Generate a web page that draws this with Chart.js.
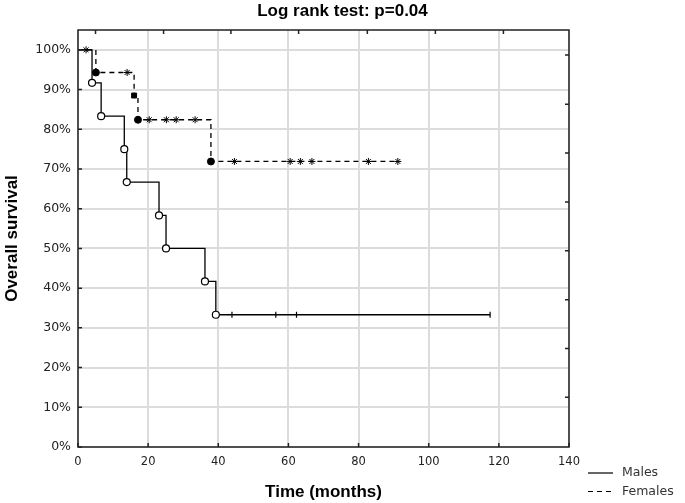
<!DOCTYPE html>
<html>
<head>
<meta charset="utf-8">
<title>Overall survival by sex</title>
<script src="https://cdn.jsdelivr.net/npm/chart.js@4"></script>
<style>
  html, body { margin: 0; padding: 0; background: #fff; }
  #wrap { width: 685px; height: 503px; }
</style>
</head>
<body>
<div id="wrap"><canvas id="kmChart"></canvas></div>
<script>
// Kaplan-Meier curves, values (time in months, survival in %)

const seriesLabels = ['Males', 'Females'];

// Males: deaths (open circles) and censored cases (| ticks)
const maleEventTimes = [4.0, 6.6, 13.2, 13.9, 23.1, 25.1, 36.2, 39.3];
const maleEventSurv = [91.7, 83.3, 75.0, 66.7, 58.3, 50.0, 41.7, 33.3];
const maleCensorTimes = [43.9, 56.4, 62.3, 117.5];

// Females: deaths (filled marks) and censored cases (stars)
const femaleEventTimes = [5.1, 16.0, 17.1, 37.9];
const femaleEventSurv = [94.3, 88.5, 82.4, 71.9];
const femaleCensorTimes = [2.3, 14.0, 20.3, 25.2, 28.0, 33.4, 44.6, 60.5, 63.4, 66.7, 82.8, 91.2];

// Axis ticks
const xTicks = [0, 20, 40, 60, 80, 100, 120, 140];
const yTicks = [0, 10, 20, 30, 40, 50, 60, 70, 80, 90, 100];
// small ticks on the top / right edges of the frame
const topTicks = [5.0, 24.4, 43.6, 62.9, 82.5, 101.9, 121.3];
const rightTicks = [12.5, 24.8, 37.1, 49.4, 61.7, 74.0, 86.3, 98.7];

// Helpers
const survAt = (times, surv, t) => {
    let s = 100;
    times.forEach((et, i) => { if (et <= t) s = surv[i]; });
    return s;
};
const eventPoints = (times, surv) => times.map((t, i) => ({ x: t, y: surv[i] }));
const censorPoints = (times, surv, cens) => cens.map(t => ({ x: t, y: survAt(times, surv, t) }));
const curvePoints = (times, surv, cens) =>
    [{ x: 0, y: 100 }, ...eventPoints(times, surv), ...censorPoints(times, surv, cens)]
        .sort((a, b) => a.x - b.x);

const tickFont = { family: '"DejaVu Sans"', size: 11.5 };
const titleFont = { family: '"Liberation Sans", Arial', size: 17, weight: 'bold' };

// Frame + inward ticks (Statistica style)
const framePlugin = {
    id: 'frame',
    afterDatasetsDraw(chart) {
        const { ctx, chartArea: a, scales: { x, y } } = chart;
        ctx.save();
        ctx.strokeStyle = '#222';
        ctx.lineWidth = 1.5;
        ctx.strokeRect(a.left, a.top, a.right - a.left, a.bottom - a.top);
        ctx.beginPath();
        xTicks.forEach(v => { const p = x.getPixelForValue(v); ctx.moveTo(p, a.bottom); ctx.lineTo(p, a.bottom - 4); });
        yTicks.forEach(v => { const p = y.getPixelForValue(v); ctx.moveTo(a.left, p); ctx.lineTo(a.left + 4, p); });
        topTicks.forEach(v => { const p = x.getPixelForValue(v); ctx.moveTo(p, a.top); ctx.lineTo(p, a.top + 4); });
        rightTicks.forEach(v => { const p = y.getPixelForValue(v); ctx.moveTo(a.right, p); ctx.lineTo(a.right - 4, p); });
        ctx.stroke();
        ctx.restore();
    }
};

// Legend in the lower right corner
const sideLegend = {
    id: 'sideLegend',
    afterDraw(chart) {
        const { ctx } = chart;
        const curves = chart.data.datasets.filter(d => d.showLine);
        ctx.save();
        ctx.font = '12.5px "DejaVu Sans"';
        ctx.textBaseline = 'middle';
        curves.forEach((ds, i) => {
            const yy = 473 + i * 18.5;
            ctx.strokeStyle = '#000';
            ctx.lineWidth = 1.2;
            ctx.setLineDash(ds.borderDash || []);
            ctx.beginPath();
            ctx.moveTo(588, yy);
            ctx.lineTo(613, yy);
            ctx.stroke();
            ctx.setLineDash([]);
            ctx.fillStyle = '#333';
            ctx.fillText(ds.label, 622, yy);
        });
        ctx.restore();
    }
};

new Chart(document.getElementById('kmChart'), {
    type: 'scatter',
    data: {
        datasets: [
            {
                label: 'Males deaths',
                data: eventPoints(maleEventTimes, maleEventSurv),
                pointStyle: 'circle', pointRadius: 3.5,
                backgroundColor: '#fff', borderColor: '#000', borderWidth: 1.2,
                order: 0
            },
            {
                label: 'Males censored',
                data: censorPoints(maleEventTimes, maleEventSurv, maleCensorTimes),
                pointStyle: 'line', rotation: 90, pointRadius: 3,
                borderColor: '#000', borderWidth: 1.2,
                order: 0
            },
            {
                label: 'Females deaths',
                data: eventPoints(femaleEventTimes, femaleEventSurv),
                pointStyle: ['circle', 'rect', 'circle', 'circle'], pointRadius: 3.5,
                backgroundColor: '#000', borderColor: '#000', borderWidth: 1,
                order: 0
            },
            {
                label: 'Females censored',
                data: censorPoints(femaleEventTimes, femaleEventSurv, femaleCensorTimes),
                pointStyle: 'star', pointRadius: 3.5,
                borderColor: '#000', borderWidth: 1,
                order: 0
            },
            {
                label: seriesLabels[0],
                data: curvePoints(maleEventTimes, maleEventSurv, maleCensorTimes),
                showLine: true, stepped: true, pointRadius: 0,
                borderColor: '#000', borderWidth: 1.3,
                order: 1
            },
            {
                label: seriesLabels[1],
                data: curvePoints(femaleEventTimes, femaleEventSurv, femaleCensorTimes),
                showLine: true, stepped: true, pointRadius: 0,
                borderColor: '#000', borderWidth: 1.3, borderDash: [5, 4],
                order: 1
            }
        ]
    },
    options: {
        responsive: true,
        maintainAspectRatio: false,
        animation: false,
        layout: { padding: 0 },
        plugins: {
            legend: { display: false },
            tooltip: { enabled: false },
            title: {
                display: true,
                text: 'Log rank test: p=0.04',
                color: '#000',
                font: titleFont,
                padding: { top: 1, bottom: 8.6 }
            }
        },
        scales: {
            x: {
                type: 'linear', min: 0, max: 140,
                afterBuildTicks: s => { s.ticks = xTicks.map(v => ({ value: v })); },
                afterFit: s => { s.height = 56; },
                ticks: { font: tickFont, color: '#222', padding: 8, maxRotation: 0, autoSkip: false },
                grid: { color: '#dcdcdc', lineWidth: 2, drawTicks: false },
                border: { display: false },
                title: { display: true, text: 'Time (months)', color: '#000', font: titleFont, padding: { top: 6, bottom: 0 } }
            },
            y: {
                type: 'linear', min: 0, max: 105,
                afterBuildTicks: s => { s.ticks = yTicks.map(v => ({ value: v })); },
                afterFit: s => { s.width = 78; },
                ticks: { font: { family: '"DejaVu Sans"', size: 12.5 }, color: '#222', padding: 7, callback: v => v + '%' },
                grid: { color: '#dcdcdc', lineWidth: 2, drawTicks: false },
                border: { display: false },
                title: { display: true, text: 'Overall survival', color: '#000', font: titleFont, padding: { top: 2, bottom: 0 } }
            },
            // empty right-hand box that leaves room for the legend
            yRight: {
                position: 'right', min: 0, max: 1,
                afterFit: s => { s.width = 116; },
                ticks: { display: false },
                grid: { display: false },
                border: { display: false }
            }
        }
    },
    plugins: [framePlugin, sideLegend]
});
</script>
</body>
</html>
